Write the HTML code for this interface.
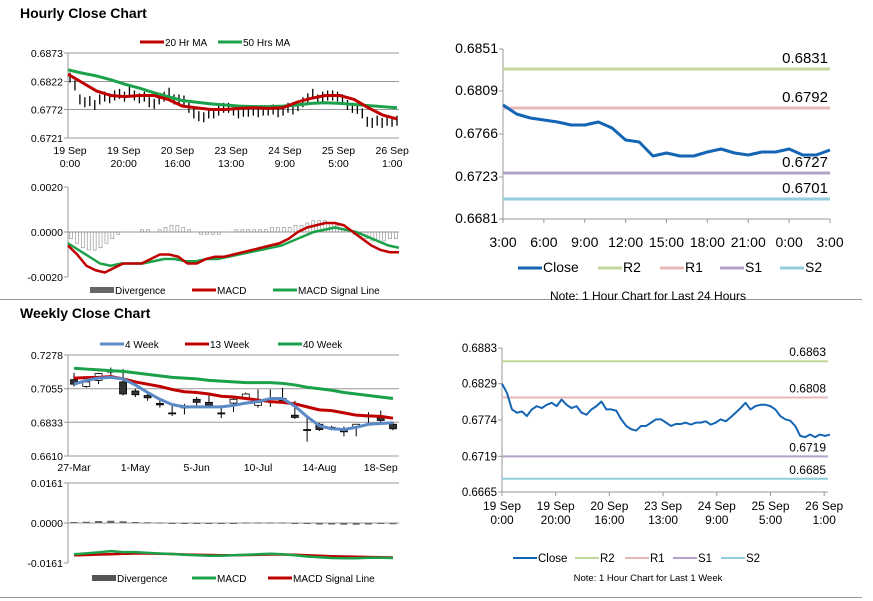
<!DOCTYPE html>
<html><head><meta charset="utf-8">
<style>
body{margin:0;background:#fff;font-family:"Liberation Sans",Arial,sans-serif;}
svg{display:block}
</style></head>
<body>
<svg id="s" width="873" height="601" xmlns="http://www.w3.org/2000/svg" font-family="Liberation Sans, Arial, sans-serif">
<text x="20" y="18" font-size="14" font-weight="bold">Hourly Close Chart</text>
<line x1="0" y1="299.5" x2="862" y2="299.5" stroke="#999"/>
<text x="20" y="318" font-size="14" font-weight="bold">Weekly Close Chart</text>
<line x1="0" y1="597.5" x2="862" y2="597.5" stroke="#999"/>
</svg>
<script>
// ---- data ----
const hourlyClose=[0.6829,0.6815,0.6790,0.6785,0.6787,0.6780,0.6790,0.6795,0.6792,0.6797,0.6800,0.6795,0.6805,0.6797,0.6792,0.6795,0.6785,0.6782,0.6790,0.6795,0.6802,0.6790,0.6790,0.6788,0.6775,0.6765,0.6760,0.6758,0.6765,0.6765,0.6770,0.6775,0.6775,0.6770,0.6765,0.6768,0.6768,0.6770,0.6767,0.6770,0.6770,0.6772,0.6767,0.6770,0.6775,0.6772,0.6778,0.6785,0.6792,0.6800,0.6790,0.6795,0.6797,0.6797,0.6795,0.6790,0.6780,0.6775,0.6773,0.6765,0.6750,0.6748,0.6752,0.6748,0.6752,0.6750,0.6752];
const ma20=[0.6835,0.6820,0.6805,0.6797,0.6795,0.6797,0.6797,0.6790,0.6778,0.6775,0.6772,0.6772,0.6774,0.6775,0.6774,0.6775,0.6785,0.6792,0.6797,0.6797,0.6790,0.6775,0.6762,0.6755];
const ma50=[0.6843,0.6837,0.6832,0.6825,0.6817,0.6810,0.6802,0.6795,0.6788,0.6785,0.6782,0.6780,0.6778,0.6777,0.6777,0.6778,0.6780,0.6783,0.6784,0.6783,0.6781,0.6779,0.6777,0.6775];
const hourTicks=["19 Sep|0:00","19 Sep|20:00","20 Sep|16:00","23 Sep|13:00","24 Sep|9:00","25 Sep|5:00","26 Sep|1:00"];
const hMacd=[-6,-10,-15,-17,-18,-16,-14,-14,-14,-12,-10,-10,-11,-14,-14,-12,-11,-11,-10,-9,-8,-7,-6,-5,-3,0,2,3,4,4,3,0,-3,-6,-8,-9,-9];
const hSignal=[-5,-8,-11,-14,-15,-14,-14,-14,-13,-12,-12,-13,-13,-12,-12,-11,-10,-9,-8,-7,-6,-4,-2,0,1,2,1,0,-2,-4,-6,-7];
const hDiv=[-3,-5,-7,-8,-8,-7,-5,-3,-1,0,0,0,1,1,0,1,2,3,3,2,1,0,-1,-1,-1,-1,0,0,1,1,1,1,1,1,2,2,2,2,3,3,4,5,5,5,4,3,1,0,-1,-2,-3,-4,-4,-4,-3,-3];
const dayClose=[0.6795,0.6786,0.6782,0.6780,0.6778,0.6775,0.6775,0.6778,0.6772,0.6760,0.6758,0.6744,0.6747,0.6744,0.6744,0.6748,0.6751,0.6747,0.6745,0.6748,0.6748,0.6751,0.6745,0.6745,0.6750];
const dayTicks=["3:00","6:00","9:00","12:00","15:00","18:00","21:00","0:00","3:00"];
const dayLevels=[0.6831,0.6792,0.6727,0.6701];
const weekLevels=[0.6863,0.6808,0.6719,0.6685];
const wOpen=[.7115,.7070,.7110,.7165,.7100,.7040,.7010,.6958,.6895,.6935,.6985,.6965,.6895,.6960,.6995,.6945,.6990,.6990,.6880,.6785,.6820,.6800,.6780,.6800,.6875,.6875,.6820];
const wClose=[.7085,.7100,.7155,.7175,.7020,.7015,.6995,.6948,.6893,.6933,.6965,.6945,.6893,.6985,.7020,.6965,.6988,.6975,.6865,.6783,.6785,.6798,.6770,.6820,.6873,.6845,.6790];
const wHigh=[.7160,.7115,.7160,.7195,.7185,.7055,.7030,.6985,.6940,.6955,.7000,.7010,.6945,.6995,.7030,.7050,.7050,.7060,.6975,.6880,.6830,.6810,.6805,.6822,.6900,.6910,.6832];
const wLow=[.7070,.7060,.7085,.7140,.7010,.7000,.6975,.6930,.6875,.6885,.6940,.6930,.6860,.6900,.6980,.6930,.6935,.6970,.6855,.6705,.6775,.6780,.6740,.6740,.6830,.6835,.6780];
const w4=[.7085,.7110,.7125,.7130,.7120,.7080,.7030,.6985,.6950,.6935,.6935,.6935,.6935,.6945,.6960,.6970,.6990,.6990,.6940,.6870,.6810,.6790,.6785,.6800,.6820,.6825,.6830];
const w13=[.7125,.7128,.7130,.7135,.7120,.7100,.7085,.7070,.7050,.7035,.7030,.7020,.7005,.7000,.6990,.6980,.6970,.6965,.6955,.6935,.6915,.6910,.6895,.6880,.6875,.6872,.6860];
const w40=[.7190,.7185,.7180,.7175,.7170,.7160,.7150,.7140,.7130,.7125,.7120,.7110,.7105,.7100,.7095,.7095,.7095,.7090,.7080,.7065,.7055,.7045,.7030,.7020,.7010,.7000,.6990];
const weekTicks=["27-Mar","1-May","5-Jun","10-Jul","14-Aug","18-Sep"];
const wMacd=[-.0126,-.0122,-.0118,-.0113,-.0117,-.0117,-.0120,-.0123,-.0125,-.0128,-.0130,-.0132,-.0132,-.0130,-.0128,-.0126,-.0124,-.0126,-.0130,-.0135,-.0138,-.0141,-.0142,-.0142,-.0140,-.0140,-.0141];
const wSignal=[-.0130,-.0129,-.0127,-.0126,-.0124,-.0123,-.0123,-.0124,-.0125,-.0127,-.0128,-.0129,-.0130,-.0130,-.0129,-.0128,-.0127,-.0127,-.0128,-.0130,-.0132,-.0134,-.0135,-.0136,-.0137,-.0138,-.0139];
const wDiv=[.0004,.0005,.0008,.0009,.0007,.0004,.0003,.0002,-.0002,-.0003,-.0003,-.0003,-.0003,-.0002,.0002,.0002,.0002,.0002,-.0002,-.0004,-.0006,-.0006,-.0007,-.0007,-.0006,-.0004,-.0005];

const S=document.getElementById('s');const NS='http://www.w3.org/2000/svg';
function el(t,a,p){const e=document.createElementNS(NS,t);for(const k in a)e.setAttribute(k,a[k]);(p||S).appendChild(e);return e;}
function txt(x,y,s,size,anchor,p){const e=el('text',{x:x,y:y,'font-size':size,'text-anchor':anchor||'start',fill:'#000'},p);e.textContent=s;return e;}
function lin(d0,d1,r0,r1){return v=>r0+(v-d0)/(d1-d0)*(r1-r0);}
function grp(name){const g=el('g',{});return g;}
function poly(arr,fx,fy,color,w,g,name){const p=el('polyline',{points:arr.map((v,i)=>fx(i)+','+fy(v)).join(' '),fill:'none',stroke:color,'stroke-width':w,'stroke-linejoin':'round'},g);return p;}
function yAxis(g,x0,x1,ticks,fy,fmt,size,grid){ticks.forEach(t=>{const y=fy(t);if(grid)el('line',{x1:x0,x2:x1,y1:y,y2:y,stroke:'#999'},g);el('line',{x1:x0-4,x2:x0,y1:y,y2:y,stroke:'#999'},g);const l=txt(x0-5,y+4,fmt(t),size,'end',g);});el('line',{x1:x0,x2:x0,y1:fy(ticks[0]),y2:fy(ticks[ticks.length-1]),stroke:'#999'},g);}
function legend(g,items,y,size){items.forEach(it=>{const e=el('line',{x1:it[0],x2:it[0]+24,y1:y,y2:y,stroke:it[2],'stroke-width':it[3]||3},g);const t=txt(it[0]+25,y+4,it[1],size,'start',g);});}
const f4=v=>v.toFixed(4);

// ---- Hourly price (left top) ----
{const g=grp('hourly-price-chart');const X0=68,X1=399;const fy=lin(0.6721,0.6873,138,53);
yAxis(g,X0,X1,[0.6721,0.6772,0.6822,0.6873],fy,f4,10.5,true);
const fx=i=>X0+2+i*(X1-X0-4)/(hourlyClose.length-1);
hourlyClose.forEach((v,i)=>{const b=el('line',{x1:fx(i),x2:fx(i),y1:fy(v)-5,y2:fy(v)+5,stroke:'#000','stroke-width':1.3},g);});
const fm=i=>X0+i*(X1-X0-2)/(ma20.length-1);
poly(ma50,fm,fy,'#1aa14a',3,g,'ma50-line');poly(ma20,fm,fy,'#c00000',3,g,'ma20-line');
hourTicks.forEach((t,i)=>{const x=70+i*53.7;const p=t.split('|');txt(x,154,p[0],10.5,'middle',g);txt(x,167,p[1],10.5,'middle',g);});
legend(g,[[140,'20 Hr MA','#c00000'],[218,'50 Hrs MA','#1aa14a']],42,10);}

// ---- Hourly MACD ----
{const g=grp('hourly-macd-chart');const X0=68,X1=399;const fy=lin(-20,20,277,187);
yAxis(g,X0,X1,[-20,0,20],fy,v=>(v/10000).toFixed(4),10.5,false);
el('line',{x1:X0,x2:X1,y1:fy(0),y2:fy(0),stroke:'#999'},g);
const fd=i=>X0+3+i*(X1-X0-6)/(hDiv.length-1);
hDiv.forEach((v,i)=>{const b=el('rect',{x:fd(i)-1.5,y:Math.min(fy(v),fy(0)),width:3,height:Math.abs(fy(v)-fy(0)),fill:'none',stroke:'#888','stroke-width':0.6},g);});
poly(hSignal,i=>X0+i*(X1-X0)/(hSignal.length-1),fy,'#1aa14a',2.5,g,'macd-signal-line');
poly(hMacd,i=>X0+i*(X1-X0)/(hMacd.length-1),fy,'#c00000',2.5,g,'macd-line');
legend(g,[[90,'Divergence','#666',6],[192,'MACD','#c00000'],[273,'MACD Signal Line','#1aa14a']],290,10);}

// ---- 24h chart (right top) ----
{const g=grp('day-pivot-chart');const X0=503,X1=830;const fy=lin(0.6681,0.6851,219,49);
yAxis(g,X0,X1,[0.6681,0.6723,0.6766,0.6809,0.6851],fy,f4,14,false);
el('line',{x1:X0,x2:X1,y1:219,y2:219,stroke:'#999'},g);
dayTicks.forEach((t,i)=>{const x=X0+i*(X1-X0)/8;el('line',{x1:x,x2:x,y1:219,y2:223,stroke:'#999'},g);txt(x,247,t,14,'middle',g);});
const cols=['#c3d69b','#e6b9b8','#b3a2c7','#93cddd'];
dayLevels.forEach((v,i)=>{const l=el('line',{x1:X0,x2:X1,y1:fy(v),y2:fy(v),stroke:cols[i],'stroke-width':3},g);txt(X1-2,fy(v)-6,f4(v),15,'end',g);});
poly(dayClose,i=>X0+i*(X1-X0)/(dayClose.length-1),fy,'#1565b5',3,g,'close-line');
legend(g,[[518,'Close','#1565b5'],[598,'R2','#c3d69b'],[660,'R1','#e6b9b8'],[720,'S1','#b3a2c7'],[780,'S2','#93cddd']],268,14);
txt(648,300,'Note: 1 Hour Chart for Last 24 Hours',12,'middle',g);}

// ---- Week hourly (right bottom) ----
{const g=grp('week-pivot-chart');const X0=502,X1=828;const fy=lin(0.6665,0.6883,492,348);
yAxis(g,X0,X1,[0.6665,0.6719,0.6774,0.6829,0.6883],fy,f4,11.5,false);
el('line',{x1:X0,x2:X1,y1:492,y2:492,stroke:'#999'},g);
hourTicks.forEach((t,i)=>{const x=X0+i*53.7;el('line',{x1:x,x2:x,y1:492,y2:496,stroke:'#999'},g);const p=t.split('|');txt(x,510,p[0],12,'middle',g);txt(x,524,p[1],12,'middle',g);});
const cols=['#c3d69b','#e6b9b8','#b3a2c7','#93cddd'];
weekLevels.forEach((v,i)=>{const l=el('line',{x1:X0,x2:X1,y1:fy(v),y2:fy(v),stroke:cols[i],'stroke-width':2},g);txt(X1-2,fy(v)-5,f4(v),12,'end',g);});
poly(hourlyClose,i=>X0+i*(X1-X0+2)/(hourlyClose.length-1),fy,'#1565b5',2,g,'close-line');
legend(g,[[513,'Close','#1565b5',2],[575,'R2','#c3d69b',2],[625,'R1','#e6b9b8',2],[673,'S1','#b3a2c7',2],[721,'S2','#93cddd',2]],558,11.5);
txt(648,581,'Note: 1 Hour Chart for Last 1 Week',9.5,'middle',g);}

// ---- Weekly candles ----
{const g=grp('weekly-price-chart');const X0=68,X1=399;const fy=lin(0.6610,0.7278,456,355);
yAxis(g,X0,X1,[0.6610,0.6833,0.7055,0.7278],fy,f4,10.5,true);
const fx=i=>74+i*(393-74)/(wOpen.length-1);
wOpen.forEach((o,i)=>{const x=fx(i),c=wClose[i];el('line',{x1:x,x2:x,y1:fy(wHigh[i]),y2:fy(wLow[i]),stroke:'#000'},g);const t=Math.min(fy(o),fy(c)),h=Math.max(1,Math.abs(fy(o)-fy(c)));const r=el('rect',{x:x-3.5,y:t,width:7,height:h,fill:c<o?'#333':'#fff',stroke:'#000','stroke-width':0.8},g);});
poly(w40,fx,fy,'#1aa14a',3,g,'ma40-line');poly(w13,fx,fy,'#c00000',3,g,'ma13-line');poly(w4,fx,fy,'#5b8ac6',3,g,'ma4-line');
weekTicks.forEach((t,i)=>txt(fx(i*5),471,t,10.5,'middle',g));
legend(g,[[100,'4 Week','#5b8ac6'],[185,'13 Week','#c00000'],[278,'40 Week','#1aa14a']],344,10);}

// ---- Weekly MACD ----
{const g=grp('weekly-macd-chart');const X0=68,X1=399;const fy=lin(-0.0161,0.0161,563,483);
yAxis(g,X0,X1,[-0.0161,0,0.0161],fy,f4,10.5,false);
el('line',{x1:X0,x2:X1,y1:fy(0),y2:fy(0),stroke:'#999'},g);
el('line',{x1:X0,x2:X1,y1:fy(0.0161),y2:fy(0.0161),stroke:'#999'},g);
const fx=i=>74+i*(393-74)/(wDiv.length-1);
wDiv.forEach((v,i)=>{const b=el('rect',{x:fx(i)-3.5,y:Math.min(fy(v),fy(0)),width:7,height:Math.max(1,Math.abs(fy(v)-fy(0))),fill:'#666'},g);});
poly(wSignal,fx,fy,'#c00000',2.5,g,'macd-signal-line');poly(wMacd,fx,fy,'#1aa14a',2.5,g,'macd-line');
legend(g,[[92,'Divergence','#555',6],[192,'MACD','#1aa14a'],[268,'MACD Signal Line','#c00000']],578,10);}
</script>
</body></html>
